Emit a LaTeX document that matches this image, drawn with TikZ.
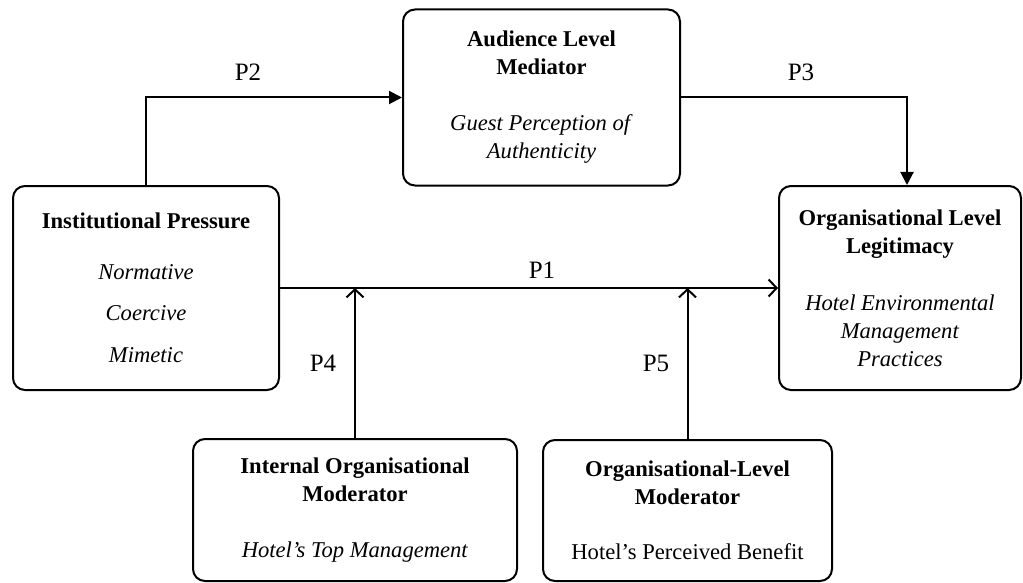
\documentclass[tikz,border=0pt]{standalone}
\usepackage{fontspec}
\setmainfont{Liberation Serif}
\usetikzlibrary{arrows.meta,positioning}

\begin{document}
\begin{tikzpicture}[x=1pt,y=-1pt,
    font=\fontsize{22.6}{28}\selectfont,
    box/.style={draw,line width=2pt,rounded corners=12pt,align=center,inner sep=0pt},
    lbl/.style={font=\fontsize{25}{30}\selectfont},
    flow/.style={line width=2pt,-{Triangle[length=13pt,width=13pt]}},
    link/.style={line width=2pt,-{Straight Barb[length=8pt,width=17pt,line width=2pt]}}]

    \useasboundingbox (0,0) rectangle (1023,583);

    % boxes
    \node[box,minimum width=266pt,minimum height=204pt] (Inst) at (146,288)
      {\textbf{Institutional Pressure}\\[23pt]\textit{Normative}\\[13pt]\textit{Coercive}\\[14pt]\textit{Mimetic}};
    \node[box,minimum width=277pt,minimum height=176pt] (Aud) at (541.5,97.5)
      {\textbf{Audience Level}\\\textbf{Mediator}\\[28pt]\textit{Guest Perception of}\\\textit{Authenticity}};
    \node[box,minimum width=242pt,minimum height=204pt] (Leg) at (900,288)
      {\textbf{Organisational Level}\\\textbf{Legitimacy}\\[29pt]\textit{Hotel Environmental}\\\textit{Management}\\\textit{Practices}};
    \node[box,minimum width=324pt,minimum height=142pt] (IntMod) at (355,510)
      {\textbf{Internal Organisational}\\\textbf{Moderator}\\[28pt]\textit{Hotel's Top Management}};
    \node[box,minimum width=289pt,minimum height=141pt] (OrgMod) at (687.5,510.5)
      {\textbf{Organisational-Level}\\\textbf{Moderator}\\[27pt]Hotel's Perceived Benefit};

    % paths
    \draw[flow] (Inst.north) |- (Aud.west);
    \draw[flow] (Aud.east) -| ([xshift=7pt]Leg.north);
    \draw[link] (Inst.east) -- (Leg.west);
    \draw[link] (IntMod.north) -- (IntMod.north |- Inst.east);
    \draw[link] (OrgMod.north) -- (OrgMod.north |- Inst.east);

    % labels
    \node[lbl] (P1) at (542,270) {P1};
    \node[lbl] (P2) at (248,72) {P2};
    \node[lbl] (P3) at (801,72) {P3};
    \node[lbl] (P4) at (323,363) {P4};
    \node[lbl] (P5) at (656,363) {P5};
\end{tikzpicture}
\end{document}
